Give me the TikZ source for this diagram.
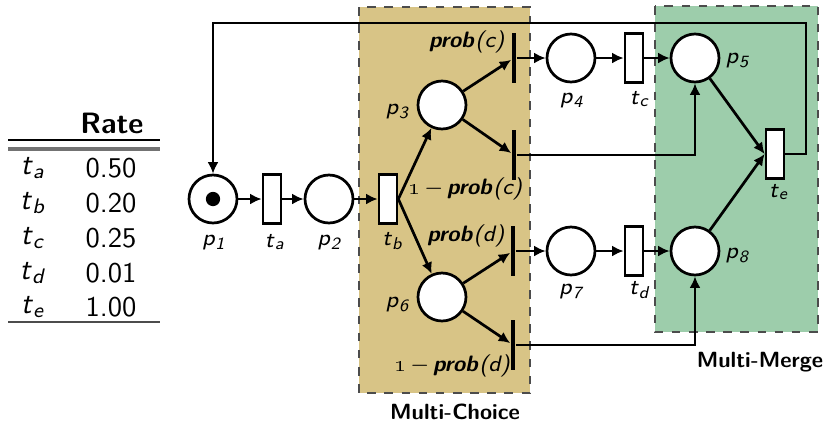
\documentclass[tikz,border=0pt]{standalone}
\usetikzlibrary{arrows.meta}
\definecolor{choicecol}{RGB}{216,196,134}
\definecolor{mergecol}{RGB}{157,205,171}
\newcommand\sv[2]{\textit{#1}\textsubscript{\textit{#2}}}
\newcommand\prb[1]{\textbf{\textit{prob}}\textit{(#1)}}
\begin{document}
\begin{tikzpicture}[x=0.35pt,y=-0.35pt,
 place/.style={circle,draw,line width=0.95pt,fill=white,minimum size=16.8pt,inner sep=0pt},
 trans/.style={rectangle,draw,line width=0.95pt,fill=white,minimum width=6.3pt,minimum height=17pt,inner sep=0pt},
 bar/.style={rectangle,fill=black,minimum width=1.6pt,minimum height=17.8pt,inner sep=0pt},
 arr/.style={line width=0.95pt,-{Latex[length=4pt,width=3.8pt]}},
 lbl/.style={font=\fontsize{8}{9.5}\selectfont\sffamily,inner sep=1pt},
 plbl/.style={font=\fontsize{7.8}{9.5}\selectfont\sffamily,inner sep=0pt},
 region/.style={draw=black!70,dashed,line width=0.45pt},
 tab/.style={font=\fontsize{10}{12}\selectfont\sffamily,inner sep=0pt}
]
\useasboundingbox (0,0) rectangle (823,425);
% regions
\fill[choicecol] (359,7) rectangle (530,393);
\draw[region] (359,7) rectangle (530,393);
\fill[mergecol] (655,6) rectangle (818,332);
\draw[region] (655,6) rectangle (818,332);
\node[lbl,font=\fontsize{7.7}{9}\selectfont\sffamily\bfseries] (mc) at (455,412) {Multi-Choice};
\node[lbl,font=\fontsize{7.7}{9}\selectfont\sffamily\bfseries] (mm) at (760,362) {Multi-Merge};
% table
\node[tab,font=\fontsize{10.3}{12}\selectfont\sffamily\bfseries] (rate) at (112,123) {Rate};
\draw[line width=0.45pt] (8,140) -- (160,140);
\draw[line width=1.1pt,black!55] (8,149) -- (160,149);
\draw[line width=0.5pt,black!70] (8,322) -- (160,322);
\foreach \n/\v/\yy in {a/0.50/168,b/0.20/203,c/0.25/238,d/0.01/273,e/1.00/307}{
  \node[tab,font=\fontsize{10.5}{12}\selectfont\sffamily] (tl\n) at (33,\yy) {\sv{t}{\n}};
  \node[tab] (tv\n) at (111,\yy) {\v};
}
% places and transitions
\node[place] (p1) at (213,199) {};
\fill (p1.center) circle (2.5pt);
\node[trans] (ta) at (272,199) {};
\node[place] (p2) at (329,199) {};
\node[trans] (tb) at (388,199) {};
\node[place] (p3) at (442,105) {};
\node[place] (p6) at (442,297) {};
\node[bar] (b1) at (514,58) {};
\node[bar] (b2) at (514,155) {};
\node[bar] (b3) at (513,251) {};
\node[bar] (b4) at (513,345) {};
\node[place] (p4) at (571,58) {};
\node[trans] (tc) at (634,58) {};
\node[place] (p5) at (695,58) {};
\node[place] (p7) at (571,251) {};
\node[trans] (td) at (634,251) {};
\node[place] (p8) at (695,251) {};
\node[trans] (te) at (775,154) {};
\coordinate (loopR) at (806,23);
\coordinate (loopL) at (213,23);
% labels
\node[lbl] (lp1) at (214,243) {\sv{p}{1}};
\node[lbl] (lta) at (275,242) {\sv{t}{a}};
\node[lbl] (lp2) at (330,243) {\sv{p}{2}};
\node[lbl] (ltb) at (393,241) {\sv{t}{b}};
\node[lbl] (lp3) at (398,112) {\sv{p}{3}};
\node[lbl] (lp6) at (398,305) {\sv{p}{6}};
\node[lbl] (lp4) at (572,101) {\sv{p}{4}};
\node[lbl] (ltc) at (640,99) {\sv{t}{c}};
\node[lbl] (lp7) at (572,292) {\sv{p}{7}};
\node[lbl] (ltd) at (640,290) {\sv{t}{d}};
\node[lbl] (lp5) at (738,61) {\sv{p}{5}};
\node[lbl] (lp8) at (738,256) {\sv{p}{8}};
\node[lbl] (lte) at (779,192) {\sv{t}{e}};
\node[plbl,anchor=east] (prc) at (505,42) {\prb{c}};
\node[plbl,anchor=west] (nprc) at (408,189) {\textbf{\oldstylenums{1}}\,$-$\,\prb{c}};
\node[plbl,anchor=east] (prd) at (505,236) {\prb{d}};
\node[plbl,anchor=west] (nprd) at (394,366) {\textbf{\oldstylenums{1}}\,$-$\,\prb{d}};
% arcs
\draw[arr] (p1) -- (ta);
\draw[arr] (ta) -- (p2);
\draw[arr] (p2) -- (tb);
\draw[arr] (tb.east) -- (p3);
\draw[arr] (tb.east) -- (p6);
\draw[arr] (p3) -- (b1);
\draw[arr] (p3) -- (b2);
\draw[arr] (p6) -- (b3);
\draw[arr] (p6) -- (b4);
\draw[arr] (b1) -- (p4);
\draw[arr] (p4) -- (tc);
\draw[arr] (tc) -- (p5);
\draw[arr] (b3) -- (p7);
\draw[arr] (p7) -- (td);
\draw[arr] (td) -- (p8);
\draw[arr] (b2) -| (p5);
\draw[arr] (b4) -| (p8);
\draw[arr] (p5) -- (te.west);
\draw[arr] (p8) -- (te.west);
\draw[arr] (te.east) -| (loopR) -- (loopL) -- (p1);
\end{tikzpicture}
\end{document}
